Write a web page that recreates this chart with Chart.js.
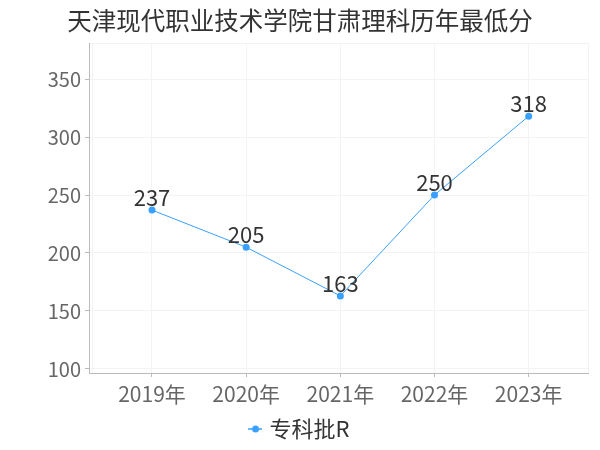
<!DOCTYPE html>
<html>
<head>
<meta charset="utf-8">
<script src="https://cdn.jsdelivr.net/npm/chart.js@4/dist/chart.umd.min.js"></script>
<style>
  html, body { margin: 0; padding: 0; background: #fff; }
  #wrap { width: 600px; height: 450px; }
</style>
</head>
<body>
<div id="wrap"><canvas id="chart"></canvas></div>
<script>
// chart data
const years = ["2019年", "2020年", "2021年", "2022年", "2023年"];
const scores = [237, 205, 163, 250, 318];
const yTicks = [100, 150, 200, 250, 300, 350];
const seriesName = "专科批R";
const titleText = "天津现代职业技术学院甘肃理科历年最低分";

const lineColor = "#3aa0ff";
const font = '"Noto Sans CJK SC", "Noto Sans", sans-serif';

// axis ranges (a little room around the points, like the original)
const xMin = -0.669, xMax = 4.63, xEdge = -0.637;
const yMin = 96.5, yMax = 381.1;

// legend marker: short line with a dot
const mark = document.createElement("canvas");
mark.width = 14; mark.height = 8;
const m = mark.getContext("2d");
m.strokeStyle = lineColor; m.lineWidth = 1.5;
m.beginPath(); m.moveTo(0, 4); m.lineTo(14, 4); m.stroke();
m.fillStyle = lineColor;
m.beginPath(); m.arc(8, 4, 3.5, 0, Math.PI * 2); m.fill();

// value labels above the points
const valueLabels = {
  id: "valueLabels",
  afterDatasetsDraw(chart) {
    const ctx = chart.ctx;
    const meta = chart.getDatasetMeta(0);
    ctx.save();
    ctx.font = "22px " + font;
    ctx.fillStyle = "#333";
    ctx.textAlign = "center";
    ctx.textBaseline = "alphabetic";
    meta.data.forEach((pt, i) => ctx.fillText(String(scores[i]), pt.x, pt.y - 4));
    ctx.restore();
  }
};

const chart = new Chart(document.getElementById("chart"), {
  type: "line",
  data: {
    datasets: [{
      label: seriesName,
      data: scores.map((v, i) => ({ x: i, y: v })),
      borderColor: lineColor,
      backgroundColor: lineColor,
      borderWidth: 1,
      pointRadius: 3.5,
      pointHoverRadius: 3.5,
      pointBorderWidth: 0,
      tension: 0
    }]
  },
  options: {
    responsive: true,
    maintainAspectRatio: false,
    animation: false,
    layout: { padding: { left: 12, right: 12, top: 0, bottom: 0 } },
    scales: {
      x: {
        type: "linear",
        min: xMin,
        max: xMax,
        afterBuildTicks: s => { s.ticks = [xEdge, 0, 1, 2, 3, 4, xMax].map(v => ({ value: v })); },
        afterFit: s => { s.height = 44; },
        ticks: {
          autoSkip: false,
          maxRotation: 0,
          padding: 4,
          color: "#666",
          font: { family: font, size: 21 },
          callback: v => Number.isInteger(v) ? years[v] : ""
        },
        grid: {
          color: "#f3f3f3",
          tickLength: 4,
          tickColor: c => Number.isInteger(c.tick && c.tick.value) ? "#bbb" : "rgba(0,0,0,0)"
        },
        border: { color: "#bbb", width: 1 }
      },
      y: {
        min: yMin,
        max: yMax,
        afterBuildTicks: s => { s.ticks = yTicks.concat([yMax]).map(v => ({ value: v })); },
        afterFit: s => { s.width = 77; },
        ticks: {
          autoSkip: false,
          padding: 4,
          color: "#666",
          font: { family: font, size: 20 },
          callback: v => yTicks.includes(v) ? v : ""
        },
        grid: {
          color: "#f3f3f3",
          tickLength: 4,
          tickColor: c => yTicks.includes(c.tick && c.tick.value) ? "#bbb" : "rgba(0,0,0,0)"
        },
        border: { color: "#bbb", width: 1 }
      }
    },
    plugins: {
      title: {
        display: true,
        text: titleText,
        color: "#333",
        font: { family: font, size: 24.5, weight: "normal", lineHeight: 1.2 },
        padding: { top: 6, bottom: 7.6 }
      },
      legend: {
        position: "bottom",
        labels: {
          usePointStyle: true,
          pointStyle: mark,
          pointStyleWidth: 8,
          color: "#333",
          padding: 1,
          font: { family: font, size: 22 }
        }
      },
      tooltip: { enabled: false }
    }
  },
  plugins: [valueLabels]
});
</script>
</body>
</html>
